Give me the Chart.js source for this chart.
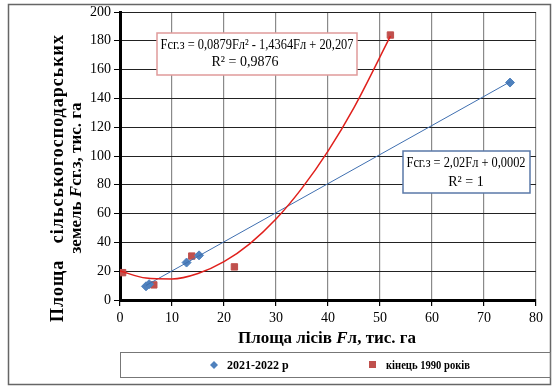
<!DOCTYPE html>
<html>
<head>
<meta charset="utf-8">
<script src="https://cdn.jsdelivr.net/npm/chart.js@4/dist/chart.umd.min.js"></script>
<style>
  html, body { margin: 0; padding: 0; background: #fff; }
  #wrap { width: 555px; height: 388px; position: relative; }
</style>
</head>
<body>
<div id="wrap"><canvas id="chart" width="555" height="388"></canvas></div>
<script>
// дані з графіка
const xTicks = [0, 10, 20, 30, 40, 50, 60, 70, 80];
const yTicks = [0, 20, 40, 60, 80, 100, 120, 140, 160, 180, 200];

// 2021-2022 р
const forest2021 = [5.0, 5.6, 12.8, 15.2, 75.0];
const farm2021 = [9.5, 11.0, 26.0, 31.0, 151.0];

// кінець 1990 років
const forest1990 = [0.5, 6.5, 13.8, 22.0, 52.0];
const farm1990 = [19.0, 10.5, 30.5, 23.0, 184.0];

// лінії тренду
const trendLinX = [5, 75];
const trendLinY = [10.1, 151.5];
const trendPolyX = [0, 5, 10, 15, 20, 25, 30, 35, 40, 45, 52];
const trendPolyY = [20.2, 15.2, 14.6, 18.4, 26.6, 39.2, 56.2, 77.7, 103.4, 133.6, 183.2];

const seriesNames = ['2021-2022 р', 'кінець 1990 років'];

const blue = '#4f81bd';
const red = '#c0504d';
const serif = '"Liberation Serif", "Times New Roman", serif';

const toPts = (xs, ys) => xs.map((x, i) => ({ x: x, y: ys[i] }));

// текст з курсивною літерою F
function drawParts(ctx, parts, x, y, align) {
    let total = 0;
    parts.forEach(p => { ctx.font = p.font; total += ctx.measureText(p.t).width; });
    let cx = align === 'center' ? x - total / 2 : x;
    ctx.textAlign = 'left';
    parts.forEach(p => {
        ctx.font = p.font;
        ctx.fillText(p.t, cx, y);
        cx += ctx.measureText(p.t).width;
    });
}

const decor = {
    id: 'decor',
    afterDraw(chart) {
        const ctx = chart.ctx;
        ctx.save();
        ctx.fillStyle = '#000';
        ctx.textBaseline = 'middle';

        // рамка діаграми
        ctx.strokeStyle = '#666';
        ctx.lineWidth = 1.5;
        ctx.strokeRect(8.5, 4.5, 542, 380);

        // назва осі X
        const bx = 'bold 17px ' + serif;
        const bix = 'bold italic 17px ' + serif;
        drawParts(ctx, [
            { t: 'Площа лісів ', font: bx },
            { t: 'F', font: bix },
            { t: 'л, тис. га', font: bx }
        ], 327, 339, 'center');

        // назва осі Y
        ctx.save();
        ctx.translate(58, 178);
        ctx.rotate(-Math.PI / 2);
        ctx.font = 'bold 18px ' + serif;
        ctx.textAlign = 'center';
        ctx.letterSpacing = '1px';
        ctx.fillText('Площа   сільськогосподарських', 0, 0);
        ctx.letterSpacing = '0px';
        drawParts(ctx, [
            { t: 'земель ', font: 'bold 17px ' + serif },
            { t: 'F', font: 'bold italic 17px ' + serif },
            { t: 'сг.з, тис. га', font: 'bold 17px ' + serif }
        ], 0, 19, 'center');
        ctx.restore();

        // рівняння тренду
        const f = '14px ' + serif;
        ctx.fillStyle = '#fff';
        ctx.fillRect(157, 33, 200, 42);
        ctx.strokeStyle = '#e09a9a';
        ctx.lineWidth = 1.5;
        ctx.strokeRect(157, 33, 200, 42);
        ctx.fillStyle = '#000';
        ctx.font = f;
        ctx.textAlign = 'center';
        ctx.fillText('Fсг.з = 0,0879Fл² - 1,4364Fл + 20,207', 257, 45, 193);
        ctx.fillText('R² = 0,9876', 245, 62, 86);

        ctx.fillStyle = '#fff';
        ctx.fillRect(403, 151, 127, 42);
        ctx.strokeStyle = '#5a78a8';
        ctx.strokeRect(403, 151, 127, 42);
        ctx.fillStyle = '#000';
        ctx.fillText('Fсг.з = 2,02Fл + 0,0002', 466, 163, 119);
        ctx.fillText('R² = 1', 466, 182, 36);

        // легенда
        ctx.strokeStyle = '#777';
        ctx.lineWidth = 1;
        ctx.strokeRect(120.5, 352.5, 430, 25);
        ctx.fillStyle = blue;
        ctx.beginPath();
        ctx.moveTo(214, 361); ctx.lineTo(218, 365); ctx.lineTo(214, 369); ctx.lineTo(210, 365);
        ctx.closePath(); ctx.fill();
        ctx.fillStyle = red;
        ctx.fillRect(369, 361, 7, 7);
        ctx.fillStyle = '#000';
        ctx.font = 'bold 12px ' + serif;
        ctx.textAlign = 'left';
        ctx.fillText(seriesNames[0], 227, 366, 64);
        ctx.fillText(seriesNames[1], 386, 366, 84);
        ctx.restore();
    }
};

new Chart(document.getElementById('chart'), {
    type: 'scatter',
    data: {
        datasets: [
            {
                label: 'тренд 1990',
                type: 'line',
                data: toPts(trendPolyX, trendPolyY),
                borderColor: '#e0201c',
                borderWidth: 1.5,
                pointRadius: 0,
                cubicInterpolationMode: 'monotone',
                fill: false
            },
            {
                label: 'тренд 2021',
                type: 'line',
                data: toPts(trendLinX, trendLinY),
                borderColor: '#3f6fb0',
                borderWidth: 1,
                pointRadius: 0,
                fill: false
            },
            {
                label: seriesNames[0],
                data: toPts(forest2021, farm2021),
                pointStyle: 'rectRot',
                pointRadius: 4.5,
                backgroundColor: blue,
                borderColor: blue
            },
            {
                label: seriesNames[1],
                data: toPts(forest1990, farm1990),
                pointStyle: 'rect',
                pointRadius: 4.5,
                backgroundColor: red,
                borderColor: red
            }
        ]
    },
    options: {
        responsive: false,
        animation: false,
        layout: { padding: { left: 0, top: 12, right: 19, bottom: 0 } },
        plugins: {
            legend: { display: false },
            tooltip: { enabled: false }
        },
        scales: {
            x: {
                type: 'linear',
                min: 0,
                max: 80,
                afterFit: s => { s.height = 88; },
                afterBuildTicks: s => { s.ticks = xTicks.map(v => ({ value: v })); },
                ticks: { color: '#000', font: { family: serif, size: 14 }, padding: 4 },
                grid: { color: '#8a8a8a', lineWidth: 1.2, tickLength: 6, tickColor: '#000' },
                border: { color: '#000', width: 3 }
            },
            y: {
                type: 'linear',
                min: 0,
                max: 200,
                afterFit: s => { s.width = 120; },
                afterBuildTicks: s => { s.ticks = yTicks.map(v => ({ value: v })); },
                ticks: { color: '#000', font: { family: serif, size: 14 }, padding: 3 },
                grid: { color: '#222', lineWidth: 1, tickLength: 6, tickColor: '#000' },
                border: { color: '#000', width: 3 }
            }
        }
    },
    plugins: [decor]
});
</script>
</body>
</html>
